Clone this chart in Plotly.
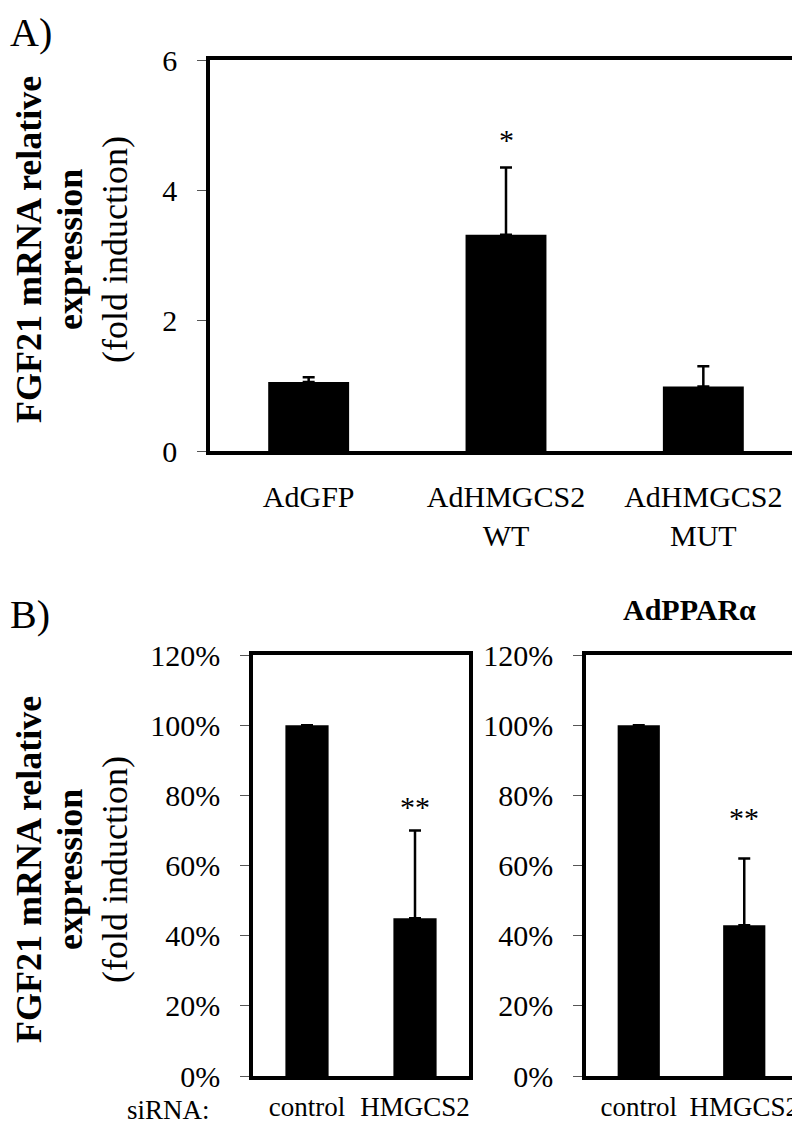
import plotly.graph_objects as go

W, H = 800, 1125

# ---------------- data ----------------
a_categories = ["AdGFP", "AdHMGCS2<br>WT", "AdHMGCS2<br>MUT"]
a_values = [1.06, 3.32, 0.99]
a_errors = [0.07, 1.03, 0.31]
a_ticks = [0, 2, 4, 6]
a_stars = ["", "*", ""]
a_star_levels = [None, 4.9, None]

b_categories = ["control", "HMGCS2"]
b_left_values = [1.00, 0.45]
b_left_errors = [0.0, 0.25]
b_right_values = [1.00, 0.43]
b_right_errors = [0.0, 0.19]
b_ticks = [0, 0.2, 0.4, 0.6, 0.8, 1.0, 1.2]
b_stars = ["", "**"]
b_star_levels_left = [None, 0.79]
b_star_levels_right = [None, 0.76]


def fx(px):
    return px / W


def fy(px):
    return 1 - px / H


SERIF = "Liberation Serif"
TICKFONT = dict(family=SERIF, size=30, color="black")
BLABELFONT = dict(family=SERIF, size=27, color="black")
TITLEFONT = dict(family=SERIF, size=36, color="black")

fig = go.Figure()

err_style = dict(type="data", symmetric=False, color="black", thickness=2.5, width=6)

fig.add_trace(go.Bar(
    x=a_categories, y=a_values, width=0.41,
    marker=dict(color="black", line=dict(width=0)),
    error_y=dict(array=a_errors, arrayminus=[0] * len(a_errors), **err_style),
    xaxis="x", yaxis="y", showlegend=False,
))
fig.add_trace(go.Bar(
    x=b_categories, y=b_left_values, width=0.40,
    marker=dict(color="black", line=dict(width=0)),
    error_y=dict(array=b_left_errors, arrayminus=[0] * len(b_left_errors), **err_style),
    xaxis="x2", yaxis="y2", showlegend=False,
))
fig.add_trace(go.Bar(
    x=b_categories, y=b_right_values, width=0.40,
    marker=dict(color="black", line=dict(width=0)),
    error_y=dict(array=b_right_errors, arrayminus=[0] * len(b_right_errors), **err_style),
    xaxis="x3", yaxis="y3", showlegend=False,
))

frame = dict(showline=True, linecolor="black", linewidth=3.5, mirror=True,
             showgrid=False, zeroline=False, automargin=False)
xcommon = dict(ticks="", tickangle=0, fixedrange=True, **frame)
ycommon = dict(ticks="outside", ticklen=9, tickwidth=1, tickcolor="#555",
               tickfont=TICKFONT, ticklabelstandoff=14, **frame)

fig.update_layout(
    width=W, height=H,
    margin=dict(l=0, r=0, t=0, b=0, autoexpand=False),
    paper_bgcolor="white", plot_bgcolor="white",
    bargap=0.59,
    xaxis=dict(domain=[fx(202), fx(794)], anchor="y", ticklabelstandoff=16,
               tickfont=TICKFONT, **xcommon),
    yaxis=dict(domain=[fy(443), fy(52)], anchor="x", range=[0, 6],
               tickvals=a_ticks, **ycommon),
    xaxis2=dict(domain=[fx(245), fx(461)], anchor="y2", ticklabelstandoff=4,
                tickfont=BLABELFONT, **xcommon),
    yaxis2=dict(domain=[fy(1068), fy(647)], anchor="x2", range=[0, 1.2],
                tickvals=b_ticks, tickformat=".0%", **ycommon),
    xaxis3=dict(domain=[fx(578), fx(789)], anchor="y3", ticklabelstandoff=4,
                tickfont=BLABELFONT, **xcommon),
    yaxis3=dict(domain=[fy(1068), fy(647)], anchor="x3", range=[0, 1.2],
                tickvals=b_ticks, tickformat=".0%", **ycommon),
)

ann = []
# panel letters
ann.append(dict(text="A)", x=fx(0), y=fy(0), xref="paper", yref="paper",
                xanchor="left", yanchor="top", showarrow=False,
                font=dict(family=SERIF, size=40, color="black")))
ann.append(dict(text="B)", x=fx(0), y=fy(582), xref="paper", yref="paper",
                xanchor="left", yanchor="top", showarrow=False,
                font=dict(family=SERIF, size=40, color="black")))
# subplot title
ann.append(dict(text="<b>AdPPARα</b>", x=fx(681), y=fy(601), xref="paper", yref="paper",
                xanchor="center", yanchor="middle", showarrow=False,
                font=dict(family=SERIF, size=30, color="black")))
# y titles
for cy in (242, 862):
    for text, cx in (("<b>FGF21 mRNA relative</b>", 21),
                     ("<b>expression</b>", 62),
                     ("(fold induction)", 107)):
        ann.append(dict(text=text, x=fx(cx), y=fy(cy), xref="paper", yref="paper",
                        xanchor="center", yanchor="middle", textangle=-90,
                        showarrow=False, font=TITLEFONT))
# siRNA label
ann.append(dict(text="siRNA:", x=fx(117), y=fy(1119), xref="paper", yref="paper",
                xanchor="left", yanchor="bottom", showarrow=False, font=BLABELFONT))
# significance stars
for cat, s, lev in zip(a_categories, a_stars, a_star_levels):
    if s:
        ann.append(dict(text=s, x=cat, y=lev, xref="x", yref="y", showarrow=False,
                        xanchor="center", yanchor="middle", yshift=-8,
                        font=dict(family=SERIF, size=30, color="black")))
for xr, yr, lv in (("x2", "y2", b_star_levels_left), ("x3", "y3", b_star_levels_right)):
    for cat, s, lev in zip(b_categories, b_stars, lv):
        if s:
            ann.append(dict(text=s, x=cat, y=lev, xref=xr, yref=yr, showarrow=False,
                            xanchor="center", yanchor="middle", yshift=-8,
                            font=dict(family=SERIF, size=30, color="black")))

fig.update_layout(annotations=ann)
fig.write_html("out.html")
